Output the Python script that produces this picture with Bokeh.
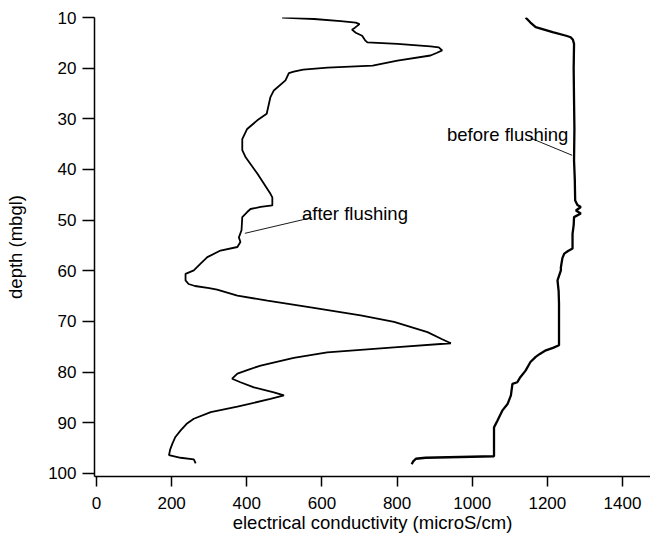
from bokeh.plotting import figure
from bokeh.models import Range1d, FixedTicker, Label
from bokeh.embed import file_html
from bokeh.resources import INLINE

# "after flushing" profile (depth in mbgl, conductivity in microS/cm)
after_depth = [10.0, 10.3, 10.7, 11.0, 11.3, 12.0, 12.4, 13.0, 13.6, 14.5, 14.9, 15.2, 15.7, 15.9, 16.5,
               17.0, 17.5, 18.5, 19.5, 19.9, 20.3, 20.7, 21.0, 22.4, 24.4, 25.7, 29.0, 30.3, 32.0, 34.0,
               36.2, 37.6, 40.8, 44.8, 45.5, 47.1, 47.4, 47.8, 48.4, 49.4, 52.0, 53.4, 54.3, 55.3, 56.0,
               57.3, 58.6, 59.9, 60.6, 61.9, 62.6, 63.0, 63.4, 63.7, 64.9, 65.9, 67.2, 68.8, 70.1, 72.1,
               73.5, 74.3, 75.1, 76.1, 77.2, 78.7, 79.5, 80.3, 81.3, 82.0, 83.0, 84.0, 84.6, 85.3, 86.8,
               87.9, 89.2, 90.2, 91.5, 92.8, 94.1, 95.3, 96.4, 96.9, 97.2, 98.0]
after_ec = [494, 579, 650, 690, 700, 688, 680, 690, 707, 715, 721, 801, 889, 911, 920,
            905, 889, 801, 735, 615, 550, 525, 512, 503, 472, 463, 453, 428, 401, 388,
            388, 397, 428, 463, 468, 468, 437, 410, 401, 388, 386, 379, 383, 375, 330,
            295, 277, 259, 237, 237, 245, 262, 300, 321, 375, 455, 570, 703, 792, 881,
            920, 943, 792, 614, 525, 437, 405, 375, 361, 383, 419, 472, 499, 463, 375,
            304, 259, 240, 224, 210, 202, 196, 193, 224, 259, 264]

# "before flushing" profile
before_depth = [10.0, 11.0, 11.9, 12.9, 13.6, 13.9, 14.4, 15.2, 20.0, 26.4, 32.0, 38.2, 42.0, 46.1,
                47.0, 47.4, 48.1, 48.7, 49.4, 51.0, 52.7, 55.6, 56.1, 56.6, 57.5, 59.3, 59.9, 61.9,
                64.0, 66.5, 70.0, 74.7, 75.2, 75.7, 76.4, 77.0, 78.0, 79.7, 81.0, 82.0, 82.3, 84.6,
                86.3, 87.6, 89.6, 90.9, 96.6, 96.9, 97.1, 97.6, 98.2]
before_ec = [1142, 1155, 1169, 1214, 1250, 1262, 1268, 1271, 1270, 1271, 1272, 1271, 1273, 1274,
             1280, 1289, 1276, 1289, 1271, 1270, 1267, 1267, 1255, 1245, 1240, 1236, 1236, 1227,
             1230, 1231, 1231, 1231, 1215, 1196, 1180, 1169, 1155, 1142, 1128, 1120, 1107, 1103,
             1094, 1080, 1067, 1058, 1058, 876, 850, 843, 839]

x_ticks = [0, 200, 400, 600, 800, 1000, 1200, 1400]
y_ticks = [10, 20, 30, 40, 50, 60, 70, 80, 90, 100]

# annotation texts and their leader lines (data coords)
label_texts = ["after flushing", "before flushing"]
label_x = [547, 933]
label_y = [48.7, 33.1]
leader_x = [[573, 395], [1155, 1266]]
leader_y = [[49.5, 52.6], [33.8, 37.2]]

FONT = "Liberation Sans"

p = figure(width=650, height=539, output_backend="svg", toolbar_location=None,
           x_range=Range1d(-5.3, 1474.5), y_range=Range1d(100.6, 10),
           min_border_left=94, min_border_right=0, min_border_top=17, min_border_bottom=63,
           x_axis_label="electrical conductivity (microS/cm)", y_axis_label="depth (mbgl)")
p.outline_line_color = None
p.grid.visible = False
p.background_fill_color = "white"
p.border_fill_color = "white"

p.xaxis.ticker = FixedTicker(ticks=x_ticks)
p.yaxis.ticker = FixedTicker(ticks=y_ticks)
for ax in (p.xaxis[0], p.yaxis[0]):
    ax.axis_line_color = "black"
    ax.axis_line_width = 1.5
    ax.major_tick_line_color = "black"
    ax.major_tick_line_width = 1.5
    ax.major_tick_in = 0
    ax.minor_tick_line_color = None
    ax.major_label_text_font = FONT
    ax.major_label_text_font_size = "17px"
    ax.major_label_text_color = "black"
    ax.axis_label_text_font = FONT
    ax.axis_label_text_font_size = "18.5px"
    ax.axis_label_text_font_style = "normal"
    ax.axis_label_text_color = "black"

p.xaxis.major_tick_out = 10
p.xaxis.major_label_standoff = 10
p.xaxis.axis_label_standoff = 0
p.yaxis.major_tick_out = 12
p.yaxis.major_label_standoff = 6
p.yaxis.axis_label_standoff = 19

p.line(after_ec, after_depth, line_color="black", line_width=1.8)
p.line(before_ec, before_depth, line_color="black", line_width=2.3)

for t, lx, ly, sx, sy in zip(label_texts, label_x, label_y, leader_x, leader_y):
    p.add_layout(Label(x=lx, y=ly, text=t, text_font=FONT, text_font_size="18.5px",
                       text_color="black", text_baseline="alphabetic", text_align="left"))
    p.line(sx, sy, line_color="black", line_width=0.9)

open("out.html", "w").write(file_html(p, INLINE))
